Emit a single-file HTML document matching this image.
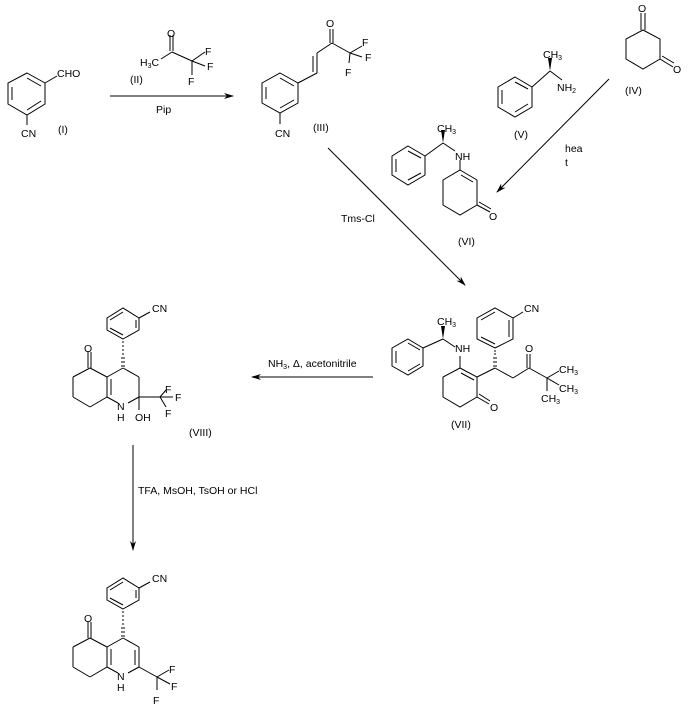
<!DOCTYPE html>
<html><head><meta charset="utf-8"><style>
html,body{margin:0;padding:0;background:#fff;}
svg{display:block;}
text{font-family:"Liberation Sans",sans-serif;font-size:10.5px;fill:#000;}
</style></head><body>
<svg width="688" height="710" viewBox="0 0 688 710" xmlns="http://www.w3.org/2000/svg">
<defs>
<marker id="ah" markerWidth="10" markerHeight="8" refX="9" refY="4" orient="auto" markerUnits="userSpaceOnUse">
<path d="M0,1 L10,4 L0,7 L3,4 Z" fill="#000"/></marker>
</defs>
<g stroke="#000" stroke-width="1" fill="none">
<polygon points="27,73 45,83 45,104 27,115 8,104 8,83"/>
<line x1="27" y1="78" x2="41" y2="86"/><line x1="41" y1="101" x2="27" y2="110"/><line x1="12" y1="87" x2="12" y2="100"/>
<line x1="45" y1="83" x2="57" y2="76"/><line x1="27" y1="115" x2="27" y2="125"/>
<line x1="110" y1="96" x2="233" y2="96" marker-end="url(#ah)"/>
<line x1="161" y1="59" x2="172" y2="52"/><line x1="172" y1="52" x2="192" y2="61"/>
<line x1="170" y1="35" x2="170" y2="51"/><line x1="173" y1="35" x2="173" y2="51"/>
<line x1="192" y1="61" x2="205" y2="52"/><line x1="192" y1="61" x2="205" y2="66"/><line x1="192" y1="61" x2="192" y2="75"/>
<polygon points="280,73 298,83 298,103 280,113 262,103 262,83"/>
<line x1="280" y1="78" x2="294" y2="86"/><line x1="294" y1="100" x2="280" y2="108"/><line x1="266" y1="87" x2="266" y2="99"/>
<line x1="280" y1="113" x2="280" y2="124"/>
<line x1="298" y1="83" x2="317" y2="73"/><line x1="317" y1="73" x2="317" y2="53"/><line x1="313" y1="72" x2="313" y2="56"/>
<line x1="317" y1="53" x2="332" y2="43"/>
<line x1="330" y1="29" x2="330" y2="43"/><line x1="333" y1="29" x2="333" y2="43"/>
<line x1="332" y1="43" x2="350" y2="53"/>
<line x1="350" y1="53" x2="362" y2="46"/><line x1="350" y1="53" x2="362" y2="57"/><line x1="350" y1="53" x2="349" y2="63"/>
<polygon points="643,30 660,39 660,59 643,69 626,59 626,39"/>
<line x1="641" y1="13" x2="641" y2="30"/><line x1="645" y1="13" x2="645" y2="30"/>
<line x1="660" y1="59" x2="673" y2="67"/><line x1="662" y1="56" x2="674" y2="63"/>
<polygon points="515,77 532,87 532,107 515,117 498,107 498,87"/>
<line x1="515" y1="82" x2="528" y2="89"/><line x1="528" y1="104" x2="515" y2="112"/><line x1="502" y1="90" x2="502" y2="104"/>
<line x1="532" y1="87" x2="550" y2="71"/><line x1="550" y1="71" x2="562" y2="80"/>
<line x1="609" y1="79" x2="497" y2="192" marker-end="url(#ah)"/>
<polygon points="408,146 425,156 425,175 408,185 392,175 392,156"/>
<line x1="408" y1="151" x2="421" y2="158"/><line x1="421" y1="173" x2="408" y2="180"/><line x1="396" y1="159" x2="396" y2="172"/>
<line x1="425" y1="156" x2="443" y2="143"/><line x1="443" y1="143" x2="455" y2="151"/>
<line x1="460" y1="160" x2="460" y2="170"/>
<polygon points="460,170 477,180 477,205 460,215 443,205 443,180"/>
<line x1="461" y1="175" x2="473" y2="182"/>
<line x1="477" y1="205" x2="490" y2="212"/><line x1="479" y1="202" x2="491" y2="209"/>
<line x1="328" y1="148" x2="465" y2="285" marker-end="url(#ah)"/>
<polygon points="408,339 423,348 423,366 408,375 392,366 392,348"/>
<line x1="408" y1="343" x2="420" y2="350"/><line x1="420" y1="364" x2="408" y2="371"/><line x1="396" y1="351" x2="396" y2="363"/>
<line x1="423" y1="348" x2="443" y2="339"/><line x1="443" y1="339" x2="455" y2="347"/>
<line x1="460" y1="356" x2="460" y2="368"/>
<polygon points="460,368 477,377 477,397 460,407 443,397 443,377"/>
<line x1="461" y1="373" x2="474" y2="380"/>
<line x1="477" y1="397" x2="489" y2="404"/><line x1="479" y1="394" x2="490" y2="401"/>
<line x1="477" y1="377" x2="495" y2="368"/>
<polygon points="495,348 513,339 513,318 495,308 477,318 477,339"/>
<line x1="509" y1="337" x2="509" y2="320"/><line x1="495" y1="312" x2="481" y2="320"/><line x1="481" y1="337" x2="495" y2="344"/>
<line x1="513" y1="318" x2="523" y2="312"/>
<line x1="495" y1="368" x2="513" y2="378"/><line x1="513" y1="378" x2="529" y2="368"/>
<line x1="527" y1="354" x2="527" y2="368"/><line x1="530" y1="354" x2="530" y2="368"/>
<line x1="529" y1="368" x2="547" y2="378"/>
<line x1="547" y1="378" x2="559" y2="371"/><line x1="547" y1="378" x2="559" y2="385"/><line x1="547" y1="378" x2="547" y2="391"/>
<line x1="373" y1="377" x2="252" y2="377" marker-end="url(#ah)"/>
<polygon points="123,339 139,330 139,318 123,308 107,318 107,330"/>
<line x1="136" y1="328" x2="136" y2="320"/><line x1="123" y1="312" x2="110" y2="320"/><line x1="110" y1="328" x2="123" y2="335"/>
<line x1="139" y1="318" x2="150" y2="312"/>
<line x1="123" y1="368" x2="107" y2="377"/><line x1="107" y1="377" x2="107" y2="397"/><line x1="111" y1="379" x2="111" y2="395"/>
<line x1="107" y1="397" x2="118" y2="403"/><line x1="128" y1="403" x2="139" y2="397"/>
<line x1="139" y1="397" x2="139" y2="377"/><line x1="139" y1="377" x2="123" y2="368"/>
<line x1="107" y1="377" x2="90" y2="368"/><line x1="90" y1="368" x2="73" y2="377"/><line x1="73" y1="377" x2="73" y2="397"/><line x1="73" y1="397" x2="90" y2="407"/><line x1="90" y1="407" x2="107" y2="397"/>
<line x1="88" y1="352" x2="88" y2="368"/><line x1="91" y1="352" x2="91" y2="368"/>
<line x1="139" y1="397" x2="160" y2="397"/><line x1="139" y1="397" x2="139" y2="410"/>
<line x1="160" y1="397" x2="166" y2="390"/><line x1="160" y1="397" x2="173" y2="397"/><line x1="160" y1="397" x2="166" y2="407"/>
<line x1="133" y1="445" x2="133" y2="550" marker-end="url(#ah)"/>
<g transform="translate(0,270)">
<polygon points="123,339 139,330 139,318 123,308 107,318 107,330"/>
<line x1="136" y1="328" x2="136" y2="320"/><line x1="123" y1="312" x2="110" y2="320"/><line x1="110" y1="328" x2="123" y2="335"/>
<line x1="139" y1="318" x2="150" y2="312"/>
<line x1="123" y1="368" x2="107" y2="377"/><line x1="107" y1="377" x2="107" y2="397"/><line x1="111" y1="379" x2="111" y2="395"/>
<line x1="107" y1="397" x2="118" y2="403"/><line x1="128" y1="403" x2="139" y2="397"/>
<line x1="139" y1="397" x2="139" y2="377"/><line x1="135" y1="395" x2="135" y2="380"/><line x1="139" y1="377" x2="123" y2="368"/>
<line x1="107" y1="377" x2="90" y2="368"/><line x1="90" y1="368" x2="73" y2="377"/><line x1="73" y1="377" x2="73" y2="397"/><line x1="73" y1="397" x2="90" y2="407"/><line x1="90" y1="407" x2="107" y2="397"/>
<line x1="88" y1="352" x2="88" y2="368"/><line x1="91" y1="352" x2="91" y2="368"/>
<line x1="139" y1="397" x2="157" y2="407"/>
<line x1="157" y1="407" x2="169" y2="400"/><line x1="157" y1="407" x2="170" y2="414"/><line x1="157" y1="407" x2="157" y2="420"/>
</g>
</g>
<g fill="#000">
<polygon points="550,71 548,58 552,58"/>
<polygon points="443,143 441,130 445,130"/>
<polygon points="443,339 441,326 445,326"/>
</g>
<g stroke="#000" stroke-width="1">
<line x1="493" y1="366" x2="497" y2="366"/><line x1="493" y1="362" x2="497" y2="362"/><line x1="493" y1="358" x2="497" y2="358"/><line x1="494" y1="354" x2="496" y2="354"/><line x1="494" y1="351" x2="496" y2="351"/>
<line x1="121" y1="366" x2="125" y2="366"/><line x1="121" y1="362" x2="125" y2="362"/><line x1="121" y1="358" x2="125" y2="358"/><line x1="122" y1="354" x2="124" y2="354"/><line x1="122" y1="350" x2="124" y2="350"/><line x1="122" y1="346" x2="124" y2="346"/><line x1="122" y1="342" x2="124" y2="342"/>
<line x1="121" y1="636" x2="125" y2="636"/><line x1="121" y1="632" x2="125" y2="632"/><line x1="121" y1="628" x2="125" y2="628"/><line x1="122" y1="624" x2="124" y2="624"/><line x1="122" y1="620" x2="124" y2="620"/><line x1="122" y1="616" x2="124" y2="616"/><line x1="122" y1="612" x2="124" y2="612"/>
</g>
<text x="57" y="77">CHO</text>
<text x="21" y="137">CN</text>
<text x="58" y="133">(I)</text>
<text x="167" y="37">O</text>
<text x="140" y="66">H<tspan font-size="7" dy="2">3</tspan><tspan dy="-2">C</tspan></text>
<text x="205" y="55">F</text>
<text x="207" y="70">F</text>
<text x="188" y="85">F</text>
<text x="130" y="83">(II)</text>
<text x="156" y="113">Pip</text>
<text x="326" y="27">O</text>
<text x="362" y="46">F</text>
<text x="365" y="61">F</text>
<text x="345" y="76">F</text>
<text x="275" y="137">CN</text>
<text x="313" y="131">(III)</text>
<text x="638" y="12">O</text>
<text x="673" y="73">O</text>
<text x="625" y="94">(IV)</text>
<text x="543" y="58">CH<tspan font-size="7" dy="2">3</tspan></text>
<text x="557" y="91">NH<tspan font-size="7" dy="2">2</tspan></text>
<text x="514" y="138">(V)</text>
<text x="565" y="152">hea</text>
<text x="565" y="166">t</text>
<text x="437" y="132">CH<tspan font-size="7" dy="2">3</tspan></text>
<text x="455" y="160">NH</text>
<text x="489" y="220">O</text>
<text x="458" y="245">(VI)</text>
<text x="341" y="222">Tms-Cl</text>
<text x="437" y="325">CH<tspan font-size="7" dy="2">3</tspan></text>
<text x="455" y="352">NH</text>
<text x="490" y="411">O</text>
<text x="524" y="312">CN</text>
<text x="525" y="352">O</text>
<text x="559" y="373">CH<tspan font-size="7" dy="2">3</tspan></text>
<text x="559" y="392">CH<tspan font-size="7" dy="2">3</tspan></text>
<text x="541" y="402">CH<tspan font-size="7" dy="2">3</tspan></text>
<text x="451" y="428">(VII)</text>
<text x="268" y="367">NH<tspan font-size="7" dy="2">3</tspan><tspan dy="-2">, Δ, acetonitrile</tspan></text>
<text x="152" y="312">CN</text>
<text x="84" y="352">O</text>
<text x="117" y="410">N</text>
<text x="117" y="421">H</text>
<text x="135" y="421">OH</text>
<text x="165" y="393">F</text>
<text x="175" y="401">F</text>
<text x="165" y="417">F</text>
<text x="189" y="436">(VIII)</text>
<text x="138" y="494">TFA, MsOH, TsOH or HCl</text>
<text x="152" y="582">CN</text>
<text x="84" y="622">O</text>
<text x="117" y="680">N</text>
<text x="117" y="691">H</text>
<text x="169" y="673">F</text>
<text x="171" y="690">F</text>
<text x="153" y="704">F</text>
</svg>
</body></html>
